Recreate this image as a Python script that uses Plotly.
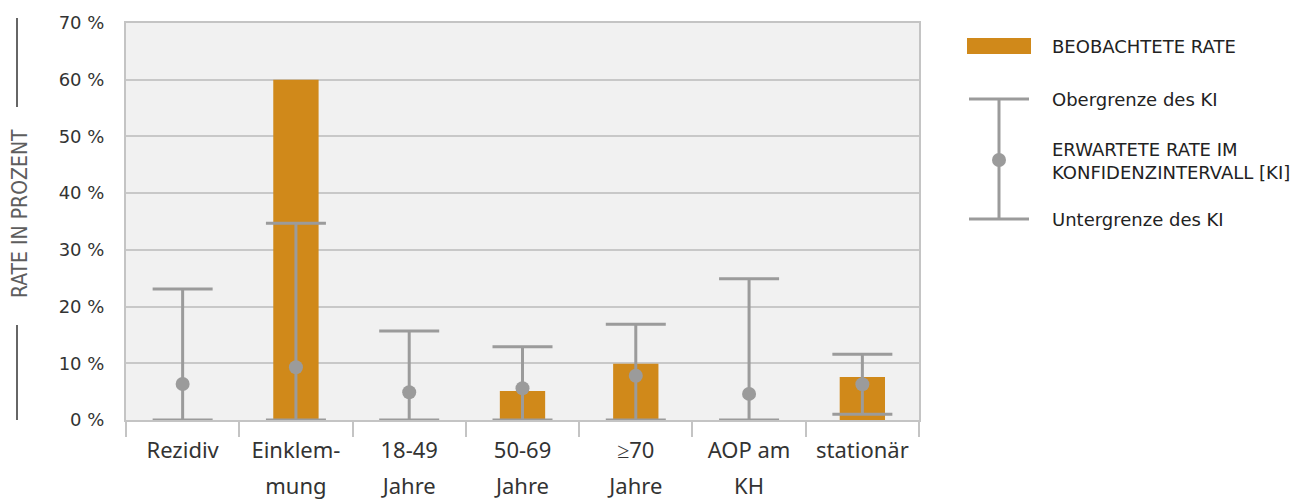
import plotly.graph_objects as go

# ---- data ----
cat_line1 = ["Rezidiv", "Einklem-", "18-49", "50-69", "≥70", "AOP am", "stationär"]
cat_line2 = ["", "mung", "Jahre", "Jahre", "Jahre", "KH", ""]
observed = [0, 60.0, 0, 5.1, 9.9, 0, 7.6]
expected = [6.35, 9.3, 4.9, 5.6, 7.8, 4.6, 6.3]
ci_upper = [23.1, 34.7, 15.7, 12.9, 16.9, 24.9, 11.6]
ci_lower = [0, 0, 0, 0, 0, 0, 1.0]
y_ticks = [0, 10, 20, 30, 40, 50, 60, 70]
y_ticktext = [f"{v} %" for v in y_ticks]

BAR = "#D0891A"
GREY = "#9B9B9B"
TXT = "#333333"

W, H = 1311, 501
OFF = 8  # page body margin
L, R, T, B = 126, 919, 23, 420  # plot area in screen pixels


def px(x):
    return (x - L) / (R - L)


def py(y):
    return (B - y) / (B - T)


idx = list(range(len(cat_line1)))

fig = go.Figure()
fig.add_trace(go.Bar(
    x=cat_line1, y=observed, width=0.4, marker=dict(color=BAR, line=dict(width=0)),
    hoverinfo="skip", showlegend=False,
))
fig.add_trace(go.Scatter(
    x=cat_line1, y=expected, mode="markers",
    marker=dict(color=GREY, size=14),
    error_y=dict(type="data", symmetric=False,
                 array=[u - e for u, e in zip(ci_upper, expected)],
                 arrayminus=[e - lo for e, lo in zip(expected, ci_lower)],
                 color=GREY, thickness=3, width=30),
    hoverinfo="skip", showlegend=False,
))
# invisible trace so xaxis2 renders
fig.add_trace(go.Scatter(x=idx, y=[None] * len(idx), xaxis="x2", yaxis="y",
                         mode="markers", showlegend=False, hoverinfo="skip"))

fig.update_layout(
    width=W, height=H,
    margin=dict(l=L - OFF, r=W - R + OFF, t=T - OFF, b=H - B + OFF, autoexpand=False),
    paper_bgcolor="white", plot_bgcolor="#F1F1F1",
    font=dict(family="DejaVu Sans", color=TXT),
    xaxis=dict(type="category", tickson="boundaries", ticks="outside", ticklen=15,
               tickcolor="#C4C4C4", tickwidth=2, showgrid=False,
               showline=True, linecolor="#C4C4C4", linewidth=2, mirror=True,
               tickfont=dict(family="Noto Sans", size=22, color=TXT),
               ticklabelstandoff=10),
    xaxis2=dict(overlaying="x", anchor="y", side="bottom", range=[-0.5, len(idx) - 0.5],
                tickmode="array", tickvals=idx, ticktext=cat_line2, showgrid=False,
                showline=False, ticks="", zeroline=False,
                tickfont=dict(family="Noto Sans", size=22, color=TXT),
                ticklabelstandoff=51),
    yaxis=dict(range=[0, 70], tickmode="array", tickvals=y_ticks, ticktext=y_ticktext,
               showgrid=True, gridcolor="#C8C8C8", gridwidth=1.5, zeroline=False,
               showline=True, linecolor="#C4C4C4", linewidth=2, mirror=True,
               tickfont=dict(family="DejaVu Sans", size=18, color=TXT),
               ticklabelstandoff=16),
)

shapes = []
ann = []
# y-axis title with rules
ann.append(dict(text="RATE IN PROZENT", x=px(20), y=py(214), xref="paper", yref="paper",
                textangle=-90, showarrow=False, xanchor="center", yanchor="middle",
                borderpad=0,
                font=dict(family="DejaVu Sans Condensed, Roboto Condensed, Liberation Sans Narrow, sans-serif",
                          size=21, color="#5E5E5E")))
shapes.append(dict(type="line", xref="paper", yref="paper", x0=px(17), x1=px(17),
                   y0=py(18), y1=py(107), line=dict(color="#666666", width=2)))
shapes.append(dict(type="line", xref="paper", yref="paper", x0=px(17), x1=px(17),
                   y0=py(325), y1=py(420), line=dict(color="#666666", width=2)))

# custom legend
shapes.append(dict(type="rect", xref="paper", yref="paper", x0=px(967), x1=px(1031),
                   y0=py(54), y1=py(38), fillcolor=BAR, line=dict(width=0)))
shapes.append(dict(type="line", xref="paper", yref="paper", x0=px(999), x1=px(999),
                   y0=py(99), y1=py(219), line=dict(color=GREY, width=3)))
for yy in (99, 219):
    shapes.append(dict(type="line", xref="paper", yref="paper", x0=px(969), x1=px(1029),
                       y0=py(yy), y1=py(yy), line=dict(color=GREY, width=3)))
shapes.append(dict(type="circle", xref="paper", yref="paper", x0=px(992), x1=px(1006),
                   y0=py(167), y1=py(153), fillcolor=GREY, line=dict(width=0)))

leg_font = dict(family="DejaVu Sans", size=18, color="#222222")
for txt, yy in [("BEOBACHTETE RATE", 46), ("Obergrenze des KI", 99),
                ("ERWARTETE RATE IM<br>KONFIDENZINTERVALL [KI]", 161),
                ("Untergrenze des KI", 219)]:
    ann.append(dict(text=txt, x=px(1050), y=py(yy), xref="paper", yref="paper",
                    showarrow=False, xanchor="left", yanchor="middle", align="left",
                    font=leg_font))

fig.update_layout(shapes=shapes, annotations=ann)
fig.write_html("out.html")
